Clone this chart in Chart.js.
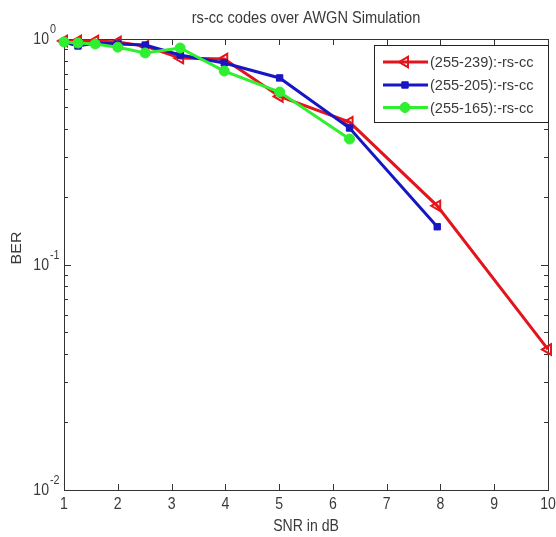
<!DOCTYPE html>
<html>
<head>
<meta charset="utf-8">
<script src="https://cdn.jsdelivr.net/npm/chart.js@4/dist/chart.umd.min.js"></script>
<style>
html,body{margin:0;padding:0;background:#fff;}
canvas{display:block;}
</style>
</head>
<body>
<canvas id="c" width="556" height="537"></canvas>
<script>
// ---- data ----
const snrDb = [1, 1.26, 1.58, 2, 2.51, 3.16, 3.98, 5.01, 6.31, 7.94, 10];
const ber239 = [0.98, 0.98, 0.98, 0.97, 0.93, 0.823, 0.815, 0.556, 0.428, 0.182, 0.042];
const ber205 = [0.97, 0.931, 0.96, 0.95, 0.94, 0.849, 0.783, 0.672, 0.403, 0.147];
const ber165 = [0.97, 0.96, 0.95, 0.92, 0.867, 0.912, 0.721, 0.582, 0.36];
const seriesLabels = ['(255-239):-rs-cc', '(255-205):-rs-cc', '(255-165):-rs-cc'];
const xTicks = [1, 2, 3, 4, 5, 6, 7, 8, 9, 10];
const yDecades = [1, 0.1, 0.01];
const yDecadeExp = ['0', '-1', '-2'];
const titleText = 'rs-cc codes over AWGN Simulation';
const xTitle = 'SNR in dB';
const yTitle = 'BER';

const RED = '#e3141b', BLUE = '#1616c4', GREEN = '#30ee30';
const TXT = '#3a3a3a';

function pts(ys) { return ys.map((y, i) => ({x: snrDb[i], y: y})); }

function txt(ctx, s, x, y, size, sx, align, baseline) {
  ctx.save();
  ctx.translate(x, y);
  ctx.scale(sx, 1);
  ctx.font = size + 'px "Liberation Sans", Arial, sans-serif';
  ctx.textAlign = align;
  ctx.textBaseline = baseline;
  ctx.fillStyle = TXT;
  ctx.fillText(s, 0, 0);
  ctx.restore();
}

const axesPlugin = {
  id: 'matlabAxes',
  beforeDatasetsDraw(chart) {
    const ctx = chart.ctx, a = chart.chartArea;
    const xs = chart.scales.x, ys = chart.scales.y;
    ctx.save();
    ctx.strokeStyle = '#333';
    ctx.lineWidth = 1;
    ctx.strokeRect(a.left + 0.5, a.top + 0.5, a.right - a.left, a.bottom - a.top);
    ctx.beginPath();
    xTicks.forEach(v => {
      const px = Math.round(xs.getPixelForValue(v)) + 0.5;
      ctx.moveTo(px, a.bottom); ctx.lineTo(px, a.bottom - 6);
      ctx.moveTo(px, a.top); ctx.lineTo(px, a.top + 6);
    });
    yDecades.forEach(d => {
      const py = Math.round(ys.getPixelForValue(d)) + 0.5;
      ctx.moveTo(a.left, py); ctx.lineTo(a.left + 7, py);
      ctx.moveTo(a.right, py); ctx.lineTo(a.right - 7, py);
    });
    [0.01, 0.1].forEach(d => {
      for (let k = 2; k <= 9; k++) {
        const py = Math.round(ys.getPixelForValue(k * d)) + 0.5;
        ctx.moveTo(a.left, py); ctx.lineTo(a.left + 4, py);
        ctx.moveTo(a.right, py); ctx.lineTo(a.right - 4, py);
      }
    });
    ctx.stroke();
    ctx.restore();
    xTicks.forEach(v => {
      txt(ctx, String(v), xs.getPixelForValue(v), a.bottom + 7, 16, 0.88, 'center', 'top');
    });
    yDecades.forEach((d, i) => {
      const py = ys.getPixelForValue(d);
      txt(ctx, '10', a.left - 15, py + 1, 16, 0.88, 'right', 'middle');
      txt(ctx, yDecadeExp[i], a.left - 14, py - 6, 12, 0.9, 'left', 'alphabetic');
    });
    txt(ctx, titleText, (a.left + a.right) / 2, 18, 17, 0.86, 'center', 'middle');
    txt(ctx, xTitle, (a.left + a.right) / 2, 527, 16, 0.88, 'center', 'middle');
    ctx.save();
    ctx.translate(17, 248);
    ctx.rotate(-Math.PI / 2);
    ctx.scale(1, 0.88);
    ctx.font = '16px "Liberation Sans", Arial, sans-serif';
    ctx.textAlign = 'center';
    ctx.textBaseline = 'middle';
    ctx.fillStyle = TXT;
    ctx.fillText(yTitle, 0, 0);
    ctx.restore();
  },
  afterDraw(chart) {
    const ctx = chart.ctx;
    const bx = 374.5, by = 45.5, bw = 174, bh = 77;
    ctx.save();
    ctx.fillStyle = '#fff';
    ctx.fillRect(bx, by, bw, bh);
    ctx.strokeStyle = '#222';
    ctx.lineWidth = 1;
    ctx.strokeRect(bx, by, bw, bh);
    const rows = [62, 85, 107.5];
    chart.data.datasets.forEach((ds, i) => {
      const y = rows[i];
      ctx.save();
      ctx.strokeStyle = ds.borderColor;
      ctx.lineWidth = 3;
      ctx.beginPath();
      ctx.moveTo(383, y); ctx.lineTo(428, y);
      ctx.stroke();
      ctx.fillStyle = ds.pointBackgroundColor;
      ctx.strokeStyle = ds.pointBorderColor;
      ctx.lineWidth = ds.pointBorderWidth;
      Chart.helpers.drawPoint(ctx, {
        pointStyle: ds.pointStyle,
        rotation: ds.pointRotation || 0,
        radius: ds.pointRadius,
        borderWidth: ds.pointBorderWidth
      }, 405, y);
      ctx.restore();
      txt(ctx, ds.label, 430, y + 1, 15, 0.97, 'left', 'middle');
    });
    ctx.restore();
  }
};

new Chart(document.getElementById('c'), {
  type: 'line',
  data: {
    datasets: [
      {
        label: seriesLabels[0], data: pts(ber239),
        borderColor: RED, borderWidth: 3,
        pointStyle: 'triangle', pointRotation: -90, pointRadius: 6,
        pointBackgroundColor: 'rgba(255,255,255,0)', pointBorderColor: RED, pointBorderWidth: 2,
        clip: false, order: 3
      },
      {
        label: seriesLabels[1], data: pts(ber205),
        borderColor: BLUE, borderWidth: 3,
        pointStyle: 'rect', pointRadius: 4.5,
        pointBackgroundColor: BLUE, pointBorderColor: BLUE, pointBorderWidth: 1,
        clip: false, order: 2
      },
      {
        label: seriesLabels[2], data: pts(ber165),
        borderColor: GREEN, borderWidth: 3,
        pointStyle: 'circle', pointRadius: 5,
        pointBackgroundColor: GREEN, pointBorderColor: GREEN, pointBorderWidth: 1,
        clip: false, order: 1
      }
    ]
  },
  options: {
    responsive: false,
    animation: false,
    devicePixelRatio: 1,
    layout: {padding: {left: 64, top: 39, right: 6, bottom: 47}},
    plugins: {legend: {display: false}, title: {display: false}, tooltip: {enabled: false}},
    elements: {line: {tension: 0}},
    scales: {
      x: {type: 'linear', min: 1, max: 10, display: false},
      y: {type: 'logarithmic', min: 0.01, max: 1, display: false}
    }
  },
  plugins: [axesPlugin]
});
</script>
</body>
</html>
